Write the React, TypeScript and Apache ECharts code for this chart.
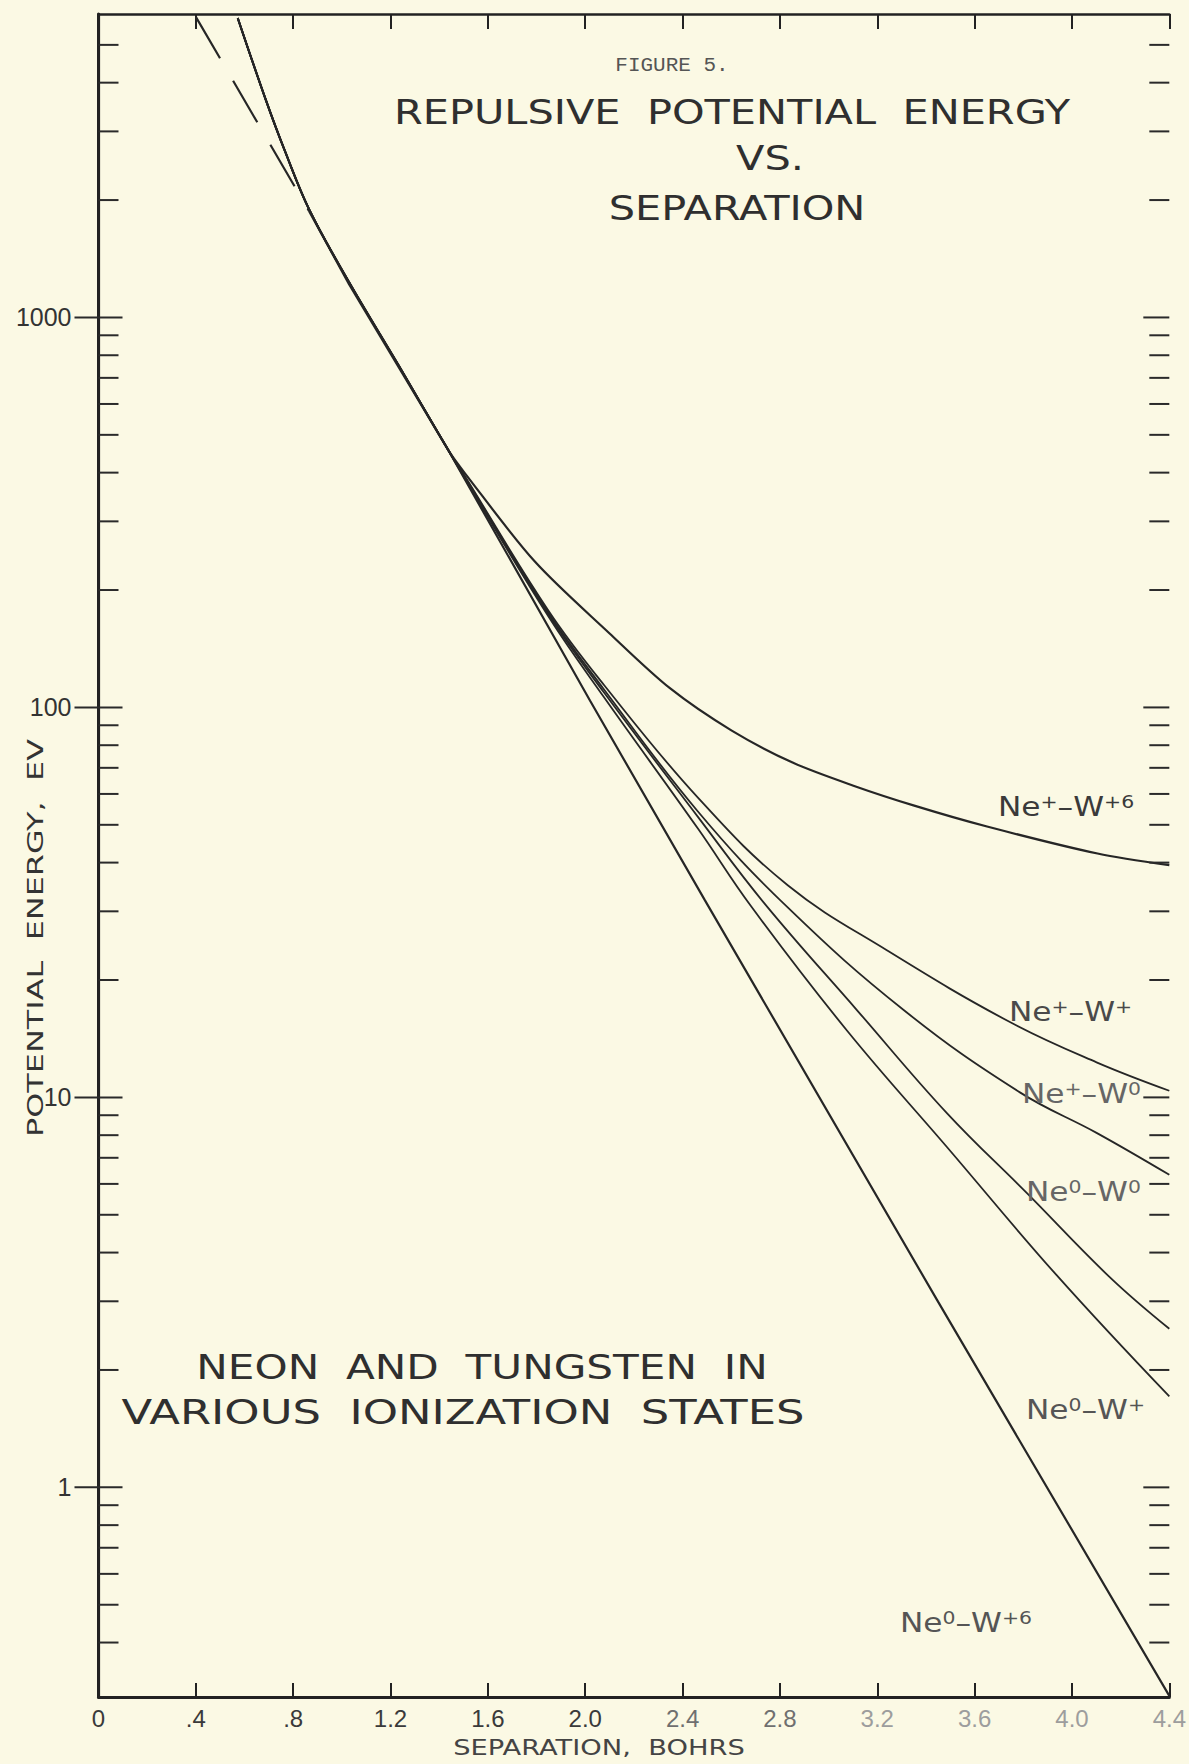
import React, { useEffect, useRef } from "react";
import * as echarts from "echarts";

// ---------- axes ----------
const X_MIN = 0;
const X_MAX = 4.4;
const X_STEP = 0.4;
const X_TICK_LABELS = ["0", ".4", ".8", "1.2", "1.6", "2.0", "2.4", "2.8", "3.2", "3.6", "4.0", "4.4"];
const Y_MIN = 0.29;
const Y_MAX = 6000;
const Y_MAJOR_TICKS = [1, 10, 100, 1000];
const Y_TICK_LABELS = ["1", "10", "100", "1000"];
const Y_MINOR_TICKS = [
  0.4, 0.5, 0.6, 0.7, 0.8, 0.9,
  2, 3, 4, 5, 6, 7, 8, 9,
  20, 30, 40, 50, 60, 70, 80, 90,
  200, 300, 400, 500, 600, 700, 800, 900,
  2000, 3000, 4000, 5000,
];

// ---------- curves (separation in bohrs, energy in eV) ----------
// steep common trunk shared by the screened curves
const TRUNK_X = [0.572, 0.686, 0.764, 0.866, 1.03, 1.235, 1.44];
const TRUNK_Y = [5860, 3635, 2692, 1890, 1230, 750, 454];

// Ne0-W+6 : dashed extension, then solid
const NE0_W6_DASH_X = [0.4, 0.866];
const NE0_W6_DASH_Y = [5900, 1870];
const NE0_W6_X = [0.866, 1.03, 1.44, 2.02, 2.492, 3.446, 4.4];
const NE0_W6_Y = [1870, 1215, 454, 104, 32, 3.02, 0.292];

// Ne+-W+6
const NEP_W6_X = [1.505, 1.792, 2.099, 2.348, 2.602, 2.852, 3.102, 3.352, 3.651, 4.105, 4.4];
const NEP_W6_Y = [399, 237, 155, 112, 87.2, 72.2, 63.0, 56.0, 49.5, 42.2, 39.4];

// Ne+-W+
const NEP_WP_X = [1.505, 1.849, 2.078, 2.463, 2.832, 3.241, 3.745, 4.101, 4.4];
const NEP_WP_Y = [392, 177, 114, 58.7, 35.0, 23.8, 15.6, 12.3, 10.4];

// Ne+-W0
const NEP_W0_X = [1.505, 1.849, 2.078, 2.463, 2.832, 3.311, 3.786, 4.101, 4.4];
const NEP_W0_Y = [390, 175, 111, 54.1, 30.7, 16.7, 10.3, 8.11, 6.33];

// Ne0-W0
const NE0_W0_X = [1.505, 1.849, 2.078, 2.463, 2.737, 3.118, 3.487, 3.815, 4.155, 4.4];
const NE0_W0_Y = [389, 173, 109, 52.4, 31.4, 16.7, 9.1, 5.68, 3.46, 2.55];

// Ne0-W+
const NE0_WP_X = [1.505, 1.849, 2.078, 2.463, 2.68, 3.077, 3.487, 3.937, 4.4];
const NE0_WP_Y = [387, 171, 106, 48.9, 31.0, 14.8, 7.45, 3.5, 1.71];

const LINE_COLOR = "#262626";
const SANS = '"DejaVu Sans", sans-serif';
const TICK_FONT = '"Liberation Sans", sans-serif';

const pairs = (xs: number[], ys: number[]) => xs.map((x, i) => [x, ys[i]]);
const withTrunk = (xs: number[], ys: number[]) => pairs(TRUNK_X.concat(xs), TRUNK_Y.concat(ys));

function curve(name: string, data: number[][], width: number, dashed = false, smooth: number | boolean = 0.3) {
  return {
    type: "line",
    name,
    data,
    symbol: "none",
    showSymbol: false,
    smooth,
    silent: true,
    clip: true,
    lineStyle: { color: LINE_COLOR, width, type: dashed ? [48, 26] : "solid" },
    z: 3,
  };
}

function label(text: string, x: number, y: number, color = "#4a4a4a") {
  return {
    type: "text",
    x,
    y,
    scaleX: 1.2,
    z: 10,
    style: {
      text,
      rich: {
        b: { fontSize: 26, fontFamily: SANS, fill: color },
        s: { fontSize: 17, fontFamily: SANS, fill: color, verticalAlign: "top" },
      },
      fill: color,
      textAlign: "left",
      textVerticalAlign: "middle",
      align: "left",
      verticalAlign: "middle",
    },
  };
}

function title(text: string, x: number, y: number, size: number, sx: number, family = SANS, color = "#2f2f2f", rotation = 0) {
  return {
    type: "text",
    x,
    y,
    scaleX: sx,
    rotation,
    z: 10,
    style: {
      text,
      font: `${size}px ${family}`,
      fill: color,
      textAlign: "center",
      textVerticalAlign: "middle",
      align: "center",
      verticalAlign: "middle",
    },
  };
}

export default function App() {
  const ref = useRef<HTMLDivElement>(null);

  useEffect(() => {
    document.body.style.margin = "0";
    if (!ref.current) return;
    const chart = echarts.init(ref.current, null, { renderer: "svg" });

    const tickData = [
      ...Y_MINOR_TICKS.map((v) => [X_MIN, v, 0]),
      ...Y_MAJOR_TICKS.map((v) => [X_MIN, v, 1]),
    ];

    const option: any = {
      animation: false,
      backgroundColor: "#fbf9e4",
      grid: { left: 98.5, right: 16, top: 14, bottom: 67, containLabel: false },
      xAxis: [
        {
          type: "value",
          min: X_MIN,
          max: X_MAX,
          interval: X_STEP,
          position: "bottom",
          axisLine: { show: true, lineStyle: { color: "#222", width: 3 } },
          axisTick: { show: true, inside: true, length: 14, lineStyle: { color: "#222", width: 2 } },
          axisLabel: {
            margin: 9,
            fontSize: 24,
            fontFamily: TICK_FONT,
            formatter: (v: number) => {
              const i = Math.round(v / X_STEP);
              const tone = i >= 8 ? "l" : i >= 6 ? "m" : "d";
              return `{${tone}|${X_TICK_LABELS[i]}}`;
            },
            rich: {
              d: { color: "#3a3a3a", fontSize: 24, fontFamily: TICK_FONT },
              m: { color: "#6f6f6f", fontSize: 24, fontFamily: TICK_FONT },
              l: { color: "#9d9d9d", fontSize: 24, fontFamily: TICK_FONT },
            },
          },
          splitLine: { show: false },
        },
        {
          type: "value",
          min: X_MIN,
          max: X_MAX,
          interval: X_STEP,
          position: "top",
          axisLine: { show: true, lineStyle: { color: "#222", width: 2.5 } },
          axisTick: { show: true, inside: true, length: 15, lineStyle: { color: "#222", width: 2 } },
          axisLabel: { show: false },
          splitLine: { show: false },
        },
      ],
      yAxis: [
        {
          type: "log",
          logBase: 10,
          min: Y_MIN,
          max: Y_MAX,
          position: "left",
          axisLine: { show: true, lineStyle: { color: "#222", width: 3 } },
          axisTick: { show: false },
          axisLabel: {
            margin: 27,
            fontSize: 25,
            fontFamily: TICK_FONT,
            color: "#333",
            showMinLabel: false,
            showMaxLabel: false,
            formatter: (v: number) => {
              const i = Y_MAJOR_TICKS.findIndex((t) => Math.abs(t - v) / t < 1e-6);
              return i >= 0 ? Y_TICK_LABELS[i] : "";
            },
          },
          splitLine: { show: false },
        },
        {
          type: "log",
          logBase: 10,
          min: Y_MIN,
          max: Y_MAX,
          position: "right",
          axisLine: { show: true, lineStyle: { color: "#222", width: 2.2 } },
          axisTick: { show: false },
          axisLabel: { show: false },
          splitLine: { show: false },
        },
      ],
      series: [
        {
          type: "custom",
          coordinateSystem: "cartesian2d",
          xAxisIndex: 0,
          yAxisIndex: 0,
          silent: true,
          clip: false,
          z: 5,
          data: tickData,
          renderItem: (_params: any, api: any) => {
            const v = api.value(1);
            const major = api.value(2) === 1;
            const l = api.coord([X_MIN, v]);
            const r = api.coord([X_MAX, v]);
            return {
              type: "group",
              children: [
                {
                  type: "line",
                  shape: { x1: l[0] - (major ? 24 : 0), y1: l[1], x2: l[0] + (major ? 24 : 20), y2: l[1] },
                  style: { stroke: "#2a2a2a", lineWidth: 2 },
                },
                {
                  type: "line",
                  shape: { x1: r[0] - (major ? 26 : 20), y1: r[1], x2: r[0], y2: r[1] },
                  style: { stroke: "#2a2a2a", lineWidth: 2 },
                },
              ],
            };
          },
        },
        curve("Ne0-W+6 (extension)", pairs(NE0_W6_DASH_X, NE0_W6_DASH_Y), 2.2, true, false),
        curve("Ne0-W+6", pairs(NE0_W6_X, NE0_W6_Y), 2.2, false, false),
        curve("Ne+-W+6", withTrunk(NEP_W6_X, NEP_W6_Y), 2.2),
        curve("Ne+-W+", withTrunk(NEP_WP_X, NEP_WP_Y), 1.8, false, 0.4),
        curve("Ne+-W0", withTrunk(NEP_W0_X, NEP_W0_Y), 1.8, false, 0.4),
        curve("Ne0-W0", withTrunk(NE0_W0_X, NE0_W0_Y), 1.8, false, 0.4),
        curve("Ne0-W+", withTrunk(NE0_WP_X, NE0_WP_Y), 1.8, false, 0.4),
      ],
      graphic: [
        title("FIGURE 5.", 672, 66, 20, 1.05, '"Liberation Mono", monospace', "#555"),
        title("REPULSIVE  POTENTIAL  ENERGY", 732, 112, 34, 1.22),
        title("VS.", 770, 158, 34, 1.22),
        title("SEPARATION", 737, 208, 34, 1.22),
        title("NEON  AND  TUNGSTEN  IN", 482, 1367, 34, 1.24),
        title("VARIOUS  IONIZATION  STATES", 463, 1412, 34, 1.32),
        title("SEPARATION,  BOHRS", 599, 1748, 21, 1.3, SANS, "#444"),
        title("POTENTIAL  ENERGY,  EV", 36, 938, 21, 1.52, SANS, "#333", Math.PI / 2),
        label("{b|Ne}{s|+}{b|–W}{s|+6}", 998, 807, "#3a3a3a"),
        label("{b|Ne}{s|+}{b|–W}{s|+}", 1009, 1012),
        label("{b|Ne}{s|+}{b|–W}{s|0}", 1022, 1094, "#666"),
        label("{b|Ne}{s|0}{b|–W}{s|0}", 1026, 1192, "#666"),
        label("{b|Ne}{s|0}{b|–W}{s|+}", 1026, 1410, "#555"),
        label("{b|Ne}{s|0}{b|–W}{s|+6}", 900, 1623, "#555"),
      ],
    };

    chart.setOption(option);
    return () => chart.dispose();
  }, []);

  return <div ref={ref} style={{ width: 1189, height: 1764, background: "#fbf9e4" }} />;
}
